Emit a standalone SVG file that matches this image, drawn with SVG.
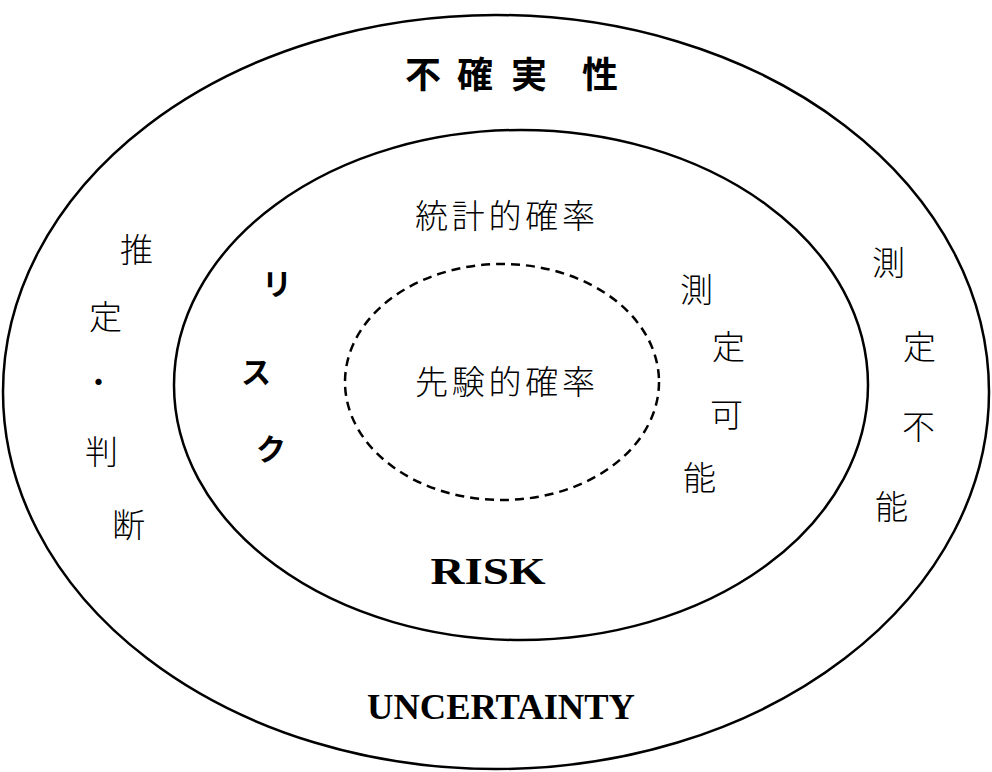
<svg xmlns="http://www.w3.org/2000/svg" width="992" height="772" viewBox="0 0 992 772">
<style>
.ring{fill:none;stroke:#000;stroke-width:2.5}
.dash{fill:none;stroke:#000;stroke-width:2.5;stroke-dasharray:9 6}
.g{font-family:"Noto Sans CJK JP",sans-serif;font-weight:bold;fill:#000}
.m{font-family:"Noto Sans CJK JP",sans-serif;font-weight:300;fill:#000;font-size:33px}
.t{font-family:"Liberation Serif",serif;font-weight:bold;fill:#000;text-anchor:middle}
</style>
<rect width="992" height="772" fill="#fff"/>
<g id="uncertainty">
<ellipse class="ring" cx="496" cy="392" rx="493" ry="377"/>
<text class="g" font-size="36" x="405" y="88">不</text>
<text class="g" font-size="36" x="457" y="88">確</text>
<text class="g" font-size="36" x="511" y="88">実</text>
<text class="g" font-size="36" x="582" y="88">性</text>
<text class="m" x="120" y="262">推</text>
<text class="m" x="89" y="329">定</text>
<text class="m" x="82" y="394">・</text>
<text class="m" x="85" y="464">判</text>
<text class="m" x="112" y="537">断</text>
<text class="m" x="872" y="275">測</text>
<text class="m" x="903" y="359">定</text>
<text class="m" x="902" y="439">不</text>
<text class="m" x="875" y="519">能</text>
<text class="t" font-size="36" x="501" y="719" textLength="268" lengthAdjust="spacingAndGlyphs">UNCERTAINTY</text>
</g>
<g id="risk">
<ellipse class="ring" cx="521" cy="385" rx="347" ry="255"/>
<text class="m" font-size="36" x="505" y="228" text-anchor="middle" textLength="180">統計的確率</text>
<text class="g" font-size="30" x="262" y="295">リ</text>
<text class="g" font-size="30" x="241" y="383">ス</text>
<text class="g" font-size="30" x="256" y="460">ク</text>
<text class="m" x="680" y="302">測</text>
<text class="m" x="712" y="359">定</text>
<text class="m" x="710" y="427">可</text>
<text class="m" x="683" y="490">能</text>
<text class="t" font-size="38" x="488" y="584" textLength="115" lengthAdjust="spacingAndGlyphs">RISK</text>
</g>
<g id="apriori">
<ellipse class="dash" cx="502" cy="382" rx="157" ry="118"/>
<text class="m" font-size="36" x="505" y="394" text-anchor="middle" textLength="180">先験的確率</text>
</g>
<g id="connectors"/>
</svg>
